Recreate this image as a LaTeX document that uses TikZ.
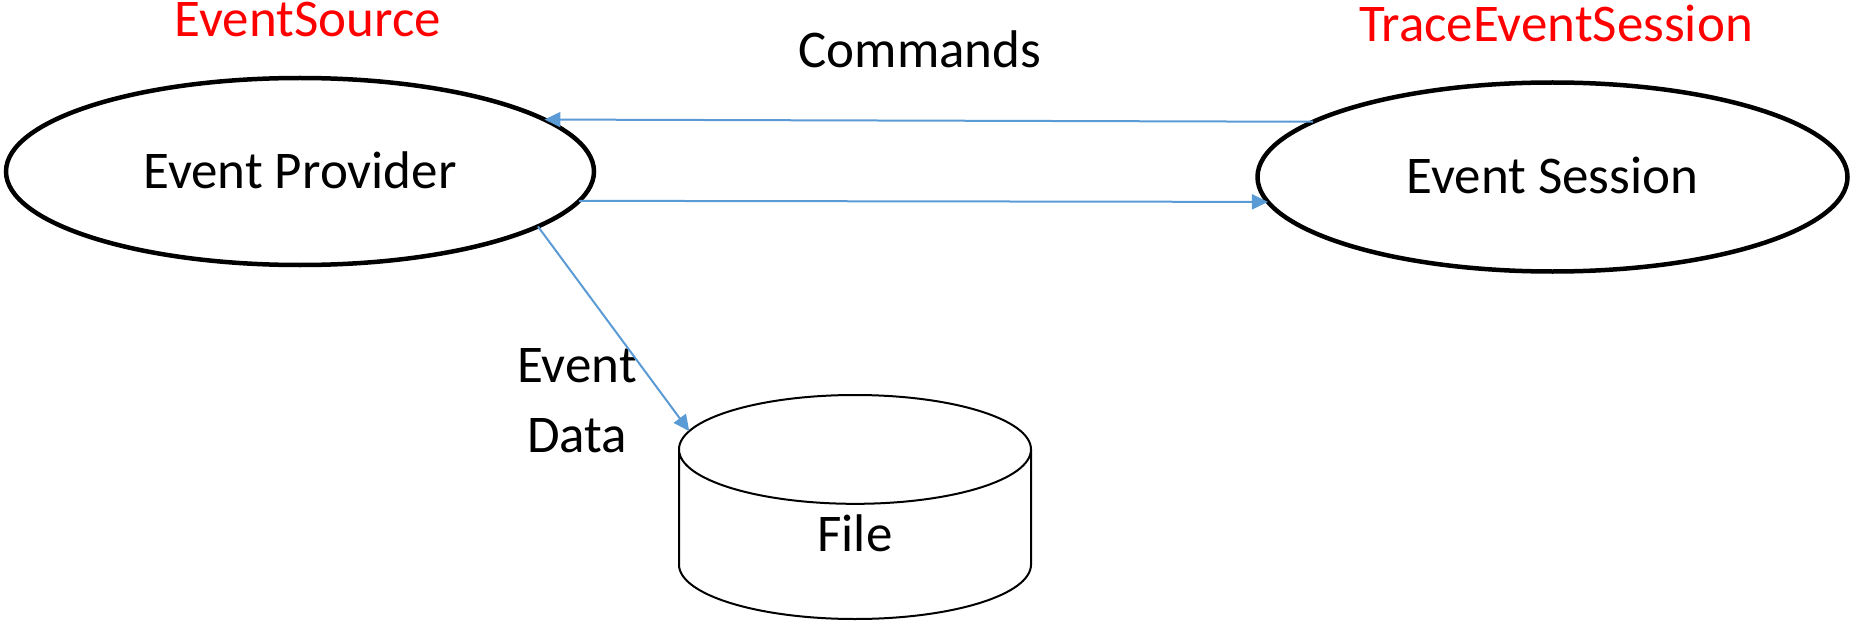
\documentclass[tikz,border=0pt]{standalone}
\usepackage{fontspec}
\setmainfont{Carlito}
\usetikzlibrary{shapes.geometric,arrows.meta}
\definecolor{flowblue}{HTML}{5B9BD5}
\begin{document}
\begin{tikzpicture}[x=1pt,y=-1pt,
  every node/.style={font=\fontsize{53}{70}\selectfont, inner sep=0pt, outer sep=0pt},
  oval/.style={ellipse, draw, line width=4.5pt, text height=33pt, text depth=0pt},
  tag/.style={anchor=base, text=red},
  flow/.style={draw=flowblue, line width=2pt, -{Triangle[length=16pt,width=15pt]}}]
\useasboundingbox (0,0) rectangle (1853,623);
\node[tag] (srcname) at (308,37) {EventSource};
\node[tag] (sessname) at (1556,42) {TraceEventSession};
\node[oval, minimum width=588pt, minimum height=187pt] (src) at (300,171.5) {Event Provider};
\node[oval, minimum width=590pt, minimum height=189pt] (sess) at (1552.5,177) {Event Session};
\node[cylinder, shape border rotate=90, draw, line width=2pt, aspect=1.45,
  minimum width=352pt, minimum height=224pt, anchor=shape center,
  text height=33pt, text depth=0pt] (file) at (855,507) {File};
\node[anchor=base] (cmd) at (920,68) {Commands};
\node[align=center, anchor=north] (data) at (577,348) {Event\\Data};
\draw[flow] (sess.167) -- (src.12);
\draw[flow] (src.-6) -- (sess.185);
\draw[flow] (src.-13) -- (file.148);
\end{tikzpicture}
\end{document}
